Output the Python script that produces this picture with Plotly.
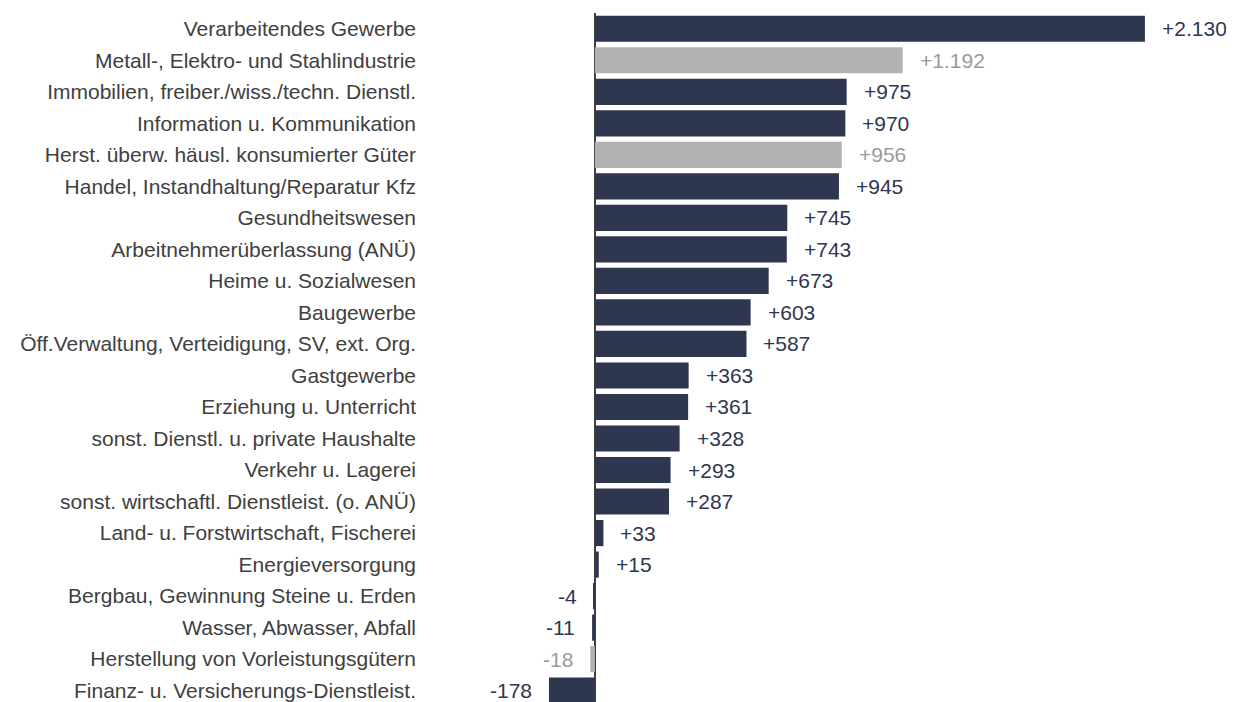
import plotly.graph_objects as go

categories = [
    "Verarbeitendes Gewerbe",
    "Metall-, Elektro- und Stahlindustrie",
    "Immobilien, freiber./wiss./techn. Dienstl.",
    "Information u. Kommunikation",
    "Herst. überw. häusl. konsumierter Güter",
    "Handel, Instandhaltung/Reparatur Kfz",
    "Gesundheitswesen",
    "Arbeitnehmerüberlassung (ANÜ)",
    "Heime u. Sozialwesen",
    "Baugewerbe",
    "Öff.Verwaltung, Verteidigung, SV, ext. Org.",
    "Gastgewerbe",
    "Erziehung u. Unterricht",
    "sonst. Dienstl. u. private Haushalte",
    "Verkehr u. Lagerei",
    "sonst. wirtschaftl. Dienstleist. (o. ANÜ)",
    "Land- u. Forstwirtschaft, Fischerei",
    "Energieversorgung",
    "Bergbau, Gewinnung Steine u. Erden",
    "Wasser, Abwasser, Abfall",
    "Herstellung von Vorleistungsgütern",
    "Finanz- u. Versicherungs-Dienstleist.",
]
values = [2130, 1192, 975, 970, 956, 945, 745, 743, 673, 603, 587,
          363, 361, 328, 293, 287, 33, 15, -4, -11, -18, -178]
highlight = [False, True, False, False, True, False, False, False, False, False, False,
             False, False, False, False, False, False, False, False, False, True, False]

DARK = "#2e374f"
GRAY = "#b2b2b2"
DARK_TXT = "#2e374f"
GRAY_TXT = "#9a9a9a"
FONT = "Liberation Sans, Arial, sans-serif"

def fmt(v):
    s = f"{abs(v):,}".replace(",", ".")
    return ("+" if v > 0 else "-") + s

ypos = list(range(len(categories)))
bar_colors = [GRAY if h else DARK for h in highlight]

fig = go.Figure()
fig.add_trace(go.Bar(
    x=values, y=ypos, orientation="h",
    marker=dict(color=bar_colors, line=dict(width=0)),
    hoverinfo="skip",
))

for i, v in enumerate(values):
    fig.add_annotation(
        x=v, y=i, xref="x", yref="y",
        text=fmt(v), showarrow=False,
        xanchor="left" if v >= 0 else "right",
        xshift=15 if v >= 0 else -15,
        font=dict(family=FONT, size=21,
                  color=GRAY_TXT if highlight[i] else DARK_TXT),
    )

fig.update_layout(
    width=1226, height=694,
    margin=dict(l=409, r=0, t=5, b=0),
    paper_bgcolor="white", plot_bgcolor="white",
    bargap=0.17,
    showlegend=False,
    font=dict(family=FONT, size=21, color="#404040"),
    xaxis=dict(range=[-689, 2475], showgrid=False, showticklabels=False,
               zeroline=True, zerolinecolor="#404040", zerolinewidth=2,
               showline=False, ticks=""),
    yaxis=dict(range=[21.36, -0.5], tickvals=ypos, ticktext=categories,
               showgrid=False, zeroline=False, showline=False, ticks="",
               tickfont=dict(family=FONT, size=21, color="#404040"), automargin=False),
)

fig.write_html("out.html")
